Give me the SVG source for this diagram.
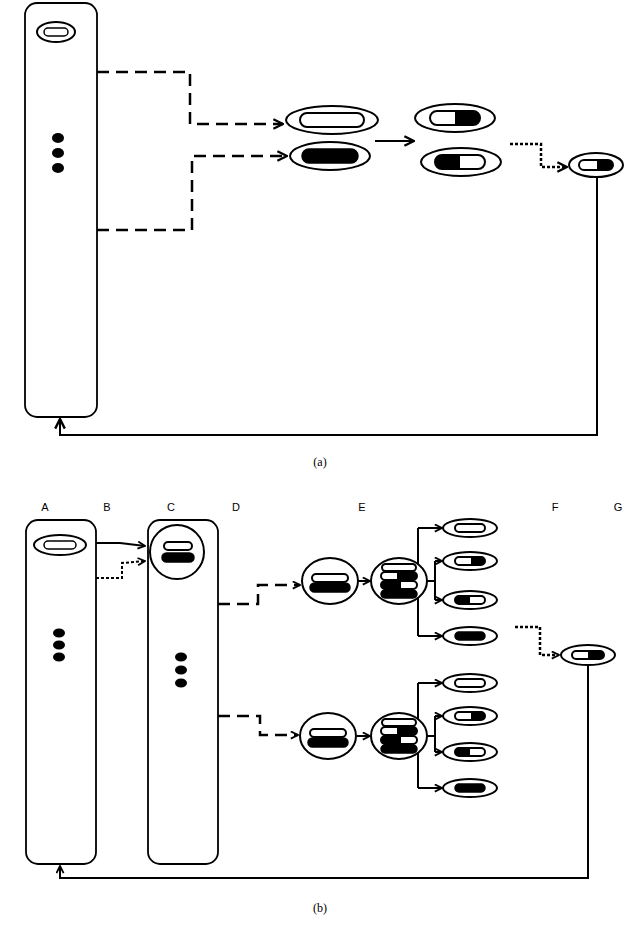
<svg xmlns="http://www.w3.org/2000/svg" width="640" height="930" viewBox="0 0 640 930">
<style>
.box{fill:#fff;stroke:#000;stroke-width:1.8}
.ol{fill:#fff;stroke:#000;stroke-width:2}
.blk{fill:#000;stroke:#000;stroke-width:1.5}
.c{fill:none;stroke:#000;stroke-width:2}
.dash{stroke-dasharray:12,7;stroke-width:2.5}
.dot{stroke-dasharray:3,2;stroke-width:2.5}
.lab{font-family:"Liberation Sans",Arial,sans-serif;font-size:11px}
.cap{font-family:"Liberation Serif",serif;font-size:12px}
</style>
<defs>
<marker id="ah" viewBox="0 0 10 10" refX="9" refY="5" markerWidth="9" markerHeight="9" markerUnits="userSpaceOnUse" orient="auto"><path d="M1,1 L9,5 L1,9" fill="none" stroke="#000" stroke-width="2"/></marker>
<marker id="ah2" viewBox="0 0 10 10" refX="9" refY="5" markerWidth="12" markerHeight="12" markerUnits="userSpaceOnUse" orient="auto"><path d="M1,1 L9,5 L1,9" fill="none" stroke="#000" stroke-width="2"/></marker>
</defs>
<g id="connectors">
<path class="c dash" d="M97,72 H190 V124 H283" marker-end="url(#ah2)"/>
<path class="c dash" d="M97,230 H192 V156 H287" marker-end="url(#ah2)"/>
<path class="c" d="M375,141 H414" marker-end="url(#ah2)"/>
<path class="c dot" d="M510,144 H541 V167 H567" marker-end="url(#ah2)"/>
<path class="c" d="M597,177 V435 H60 V419" marker-end="url(#ah2)"/>
<path class="c" d="M96,543 H120 L145,546" marker-end="url(#ah)"/>
<path class="c dot" d="M96,578 H122 V563 L145,561" marker-end="url(#ah)" style="stroke-width:2"/>
<path class="c dash" d="M218,604 H258 V585 H300" marker-end="url(#ah)"/>
<path class="c" d="M358,581 H370" marker-end="url(#ah)"/>
<path class="c" d="M418,528 V636 M427,581 H435 M435,561 V600"/>
<path class="c" d="M418,528 H442" marker-end="url(#ah)"/>
<path class="c" d="M435,561 H442" marker-end="url(#ah)"/>
<path class="c" d="M435,600 H442" marker-end="url(#ah)"/>
<path class="c" d="M418,636 H442" marker-end="url(#ah)"/>
<path class="c dash" d="M218,716 H260 V735 H298" marker-end="url(#ah)"/>
<path class="c" d="M357,736 H370" marker-end="url(#ah)"/>
<path class="c" d="M418,683 V788 M427,736 H435 M435,716 V752"/>
<path class="c" d="M418,683 H442" marker-end="url(#ah)"/>
<path class="c" d="M435,716 H442" marker-end="url(#ah)"/>
<path class="c" d="M435,752 H442" marker-end="url(#ah)"/>
<path class="c" d="M418,788 H442" marker-end="url(#ah)"/>
<path class="c dot" d="M515,627 H540 V655 H559" marker-end="url(#ah)"/>
<path class="c" d="M588,665 V878 H60 V866" marker-end="url(#ah)"/>
</g>
<g id="a-column">
<rect class="box" x="25" y="3" width="72" height="414" rx="12"/>
<ellipse class="ol" cx="56" cy="32" rx="19" ry="10"/>
<rect class="ol" x="44" y="28" width="24" height="8" rx="4" style="stroke-width:1.5"/>
<ellipse cx="58" cy="138" rx="6" ry="5"/><ellipse cx="58" cy="153" rx="6" ry="5"/><ellipse cx="58" cy="168" rx="6" ry="5"/>
</g>
<g id="a-n1"><ellipse class="ol" cx="332" cy="120" rx="46" ry="14"/><rect class="ol" x="300" y="113" width="64" height="14" rx="7"/></g>
<g id="a-n2"><ellipse class="ol" cx="330" cy="156" rx="40" ry="14"/><rect class="blk" x="302" y="149" width="56" height="14" rx="7"/></g>
<g id="a-n3"><ellipse class="ol" cx="455" cy="118" rx="40" ry="14"/><rect class="ol" x="430" y="111" width="50" height="14" rx="7"/><path d="M455,111 H473 A7,7 0 0 1 473,125 H455 Z"/></g>
<g id="a-n4"><ellipse class="ol" cx="461" cy="162" rx="40" ry="14"/><rect class="ol" x="435" y="155" width="50" height="14" rx="7"/><path d="M460,155 H442 A7,7 0 0 0 442,169 H460 Z"/></g>
<g id="a-n5"><ellipse class="ol" cx="596" cy="165" rx="27" ry="12"/><rect class="ol" x="579" y="160" width="34" height="10" rx="5"/><path d="M597,160 H608 A5,5 0 0 1 608,170 H597 Z"/></g>
<text class="cap" x="320" y="466" text-anchor="middle">(a)</text>
<g id="labels">
<text class="lab" x="45" y="511" text-anchor="middle">A</text>
<text class="lab" x="107" y="511" text-anchor="middle">B</text>
<text class="lab" x="171" y="511" text-anchor="middle">C</text>
<text class="lab" x="236" y="511" text-anchor="middle">D</text>
<text class="lab" x="362" y="511" text-anchor="middle">E</text>
<text class="lab" x="555" y="511" text-anchor="middle">F</text>
<text class="lab" x="618" y="511" text-anchor="middle">G</text>
</g>
<g id="b-A">
<rect class="box" x="26" y="520" width="70" height="344" rx="12"/>
<ellipse class="ol" cx="60" cy="545" rx="26" ry="10"/>
<rect class="ol" x="44" y="541" width="32" height="8" rx="4" style="stroke-width:1.5"/>
<ellipse cx="59" cy="633" rx="6" ry="4.5"/><ellipse cx="59" cy="645" rx="6" ry="4.5"/><ellipse cx="59" cy="657" rx="6" ry="4.5"/>
</g>
<g id="b-C">
<rect class="box" x="148" y="520" width="70" height="344" rx="12"/>
<circle class="ol" cx="177" cy="552" r="27"/>
<rect class="ol" x="164" y="542" width="28" height="8" rx="4"/>
<rect class="blk" x="162" y="553" width="32" height="9" rx="4.5"/>
<ellipse cx="181" cy="657" rx="6" ry="4.5"/><ellipse cx="181" cy="670" rx="6" ry="4.5"/><ellipse cx="181" cy="683" rx="6" ry="4.5"/>
</g>
<g id="b-E1">
<ellipse class="ol" cx="330" cy="581" rx="28" ry="23"/>
<rect class="ol" x="312" y="574" width="36" height="8" rx="4"/>
<rect class="blk" x="310" y="583" width="40" height="9" rx="4.5"/>
</g>
<g id="b-E2">
<ellipse class="ol" cx="399" cy="581" rx="28" ry="23"/>
<rect class="ol" x="382" y="564" width="34" height="7" rx="3.5"/>
<rect class="ol" x="381" y="572" width="36" height="8" rx="4"/><path d="M397,572 H413 A4,4 0 0 1 413,580 H397 Z"/>
<rect class="ol" x="381" y="581" width="36" height="8" rx="4"/><path d="M401,581 H385 A4,4 0 0 0 385,589 H401 Z"/>
<rect class="blk" x="381" y="590" width="36" height="8" rx="4"/>
</g>
<g id="b-o1"><ellipse class="ol" cx="470" cy="528" rx="27" ry="9"/><rect class="ol" x="455" y="524" width="30" height="8" rx="4"/></g>
<g id="b-o2"><ellipse class="ol" cx="470" cy="561" rx="27" ry="9"/><rect class="ol" x="455" y="557" width="30" height="8" rx="4"/><path d="M471,557 H481 A4,4 0 0 1 481,565 H471 Z"/></g>
<g id="b-o3"><ellipse class="ol" cx="470" cy="600" rx="27" ry="9"/><rect class="ol" x="455" y="596" width="30" height="8" rx="4"/><path d="M470,596 H459 A4,4 0 0 0 459,604 H470 Z"/></g>
<g id="b-o4"><ellipse class="ol" cx="470" cy="636" rx="27" ry="9"/><rect class="blk" x="455" y="632" width="30" height="8" rx="4"/></g>
<g id="b-E3">
<ellipse class="ol" cx="328" cy="736" rx="28" ry="23"/>
<rect class="ol" x="310" y="729" width="36" height="8" rx="4"/>
<rect class="blk" x="308" y="738" width="40" height="9" rx="4.5"/>
</g>
<g id="b-E4">
<ellipse class="ol" cx="399" cy="736" rx="28" ry="23"/>
<rect class="ol" x="382" y="719" width="34" height="7" rx="3.5"/>
<rect class="ol" x="381" y="727" width="36" height="8" rx="4"/><path d="M397,727 H413 A4,4 0 0 1 413,735 H397 Z"/>
<rect class="ol" x="381" y="736" width="36" height="8" rx="4"/><path d="M401,736 H385 A4,4 0 0 0 385,744 H401 Z"/>
<rect class="blk" x="381" y="745" width="36" height="8" rx="4"/>
</g>
<g id="b-o5"><ellipse class="ol" cx="470" cy="683" rx="27" ry="9"/><rect class="ol" x="455" y="679" width="30" height="8" rx="4"/></g>
<g id="b-o6"><ellipse class="ol" cx="470" cy="716" rx="27" ry="9"/><rect class="ol" x="455" y="712" width="30" height="8" rx="4"/><path d="M471,712 H481 A4,4 0 0 1 481,720 H471 Z"/></g>
<g id="b-o7"><ellipse class="ol" cx="470" cy="752" rx="27" ry="9"/><rect class="ol" x="455" y="748" width="30" height="8" rx="4"/><path d="M470,748 H459 A4,4 0 0 0 459,756 H470 Z"/></g>
<g id="b-o8"><ellipse class="ol" cx="470" cy="788" rx="27" ry="9"/><rect class="blk" x="455" y="784" width="30" height="8" rx="4"/></g>
<g id="b-G"><ellipse class="ol" cx="588" cy="655" rx="27" ry="10"/><rect class="ol" x="572" y="651" width="32" height="8" rx="4"/><path d="M588,651 H600 A4,4 0 0 1 600,659 H588 Z"/></g>
<text class="cap" x="320" y="912" text-anchor="middle">(b)</text>
</svg>
